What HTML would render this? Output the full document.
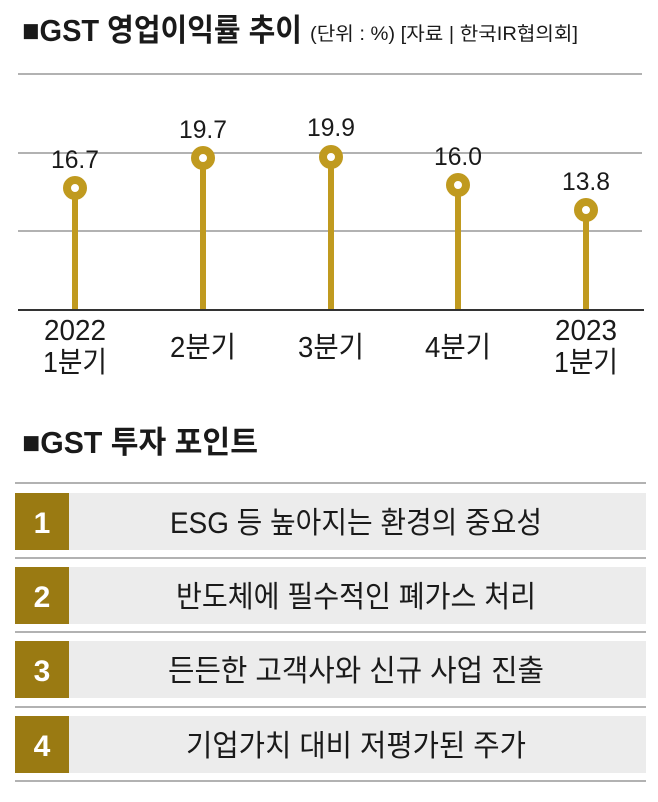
<!DOCTYPE html>
<html><head><meta charset="utf-8"><style>
html,body{margin:0;padding:0;background:#fff}
svg{display:block}
text{font-family:"Liberation Sans","Noto Sans CJK KR",sans-serif;fill:#1a1a1a}
</style></head><body>
<svg width="658" height="802" viewBox="0 0 658 802" xmlns="http://www.w3.org/2000/svg">
<rect width="658" height="802" fill="#fff"/>
<text x="22" y="41" font-size="31" font-weight="bold" textLength="280" lengthAdjust="spacingAndGlyphs">■GST 영업이익률 추이</text>
<text x="310" y="40" font-size="19" textLength="268" lengthAdjust="spacingAndGlyphs">(단위 : %) [자료 | 한국IR협의회]</text>
<g stroke="#999" stroke-width="1.5">
<line x1="18" y1="74" x2="642" y2="74"/>
<line x1="18" y1="153" x2="642" y2="153"/>
<line x1="18" y1="231" x2="642" y2="231"/>
</g>
<g stroke="#c09a1f" stroke-width="6">
<line x1="75" y1="188" x2="75" y2="310"/>
<line x1="203" y1="158" x2="203" y2="310"/>
<line x1="331" y1="157" x2="331" y2="310"/>
<line x1="458" y1="185" x2="458" y2="310"/>
<line x1="586" y1="210" x2="586" y2="310"/>
</g>
<line x1="18" y1="310" x2="644" y2="310" stroke="#333" stroke-width="2"/>
<g fill="#fff" stroke="#c09a1f" stroke-width="8">
<circle cx="75" cy="188" r="8"/>
<circle cx="203" cy="158" r="8"/>
<circle cx="331" cy="157" r="8"/>
<circle cx="458" cy="185" r="8"/>
<circle cx="586" cy="210" r="8"/>
</g>
<g font-size="25" text-anchor="middle">
<text x="75" y="168" textLength="48" lengthAdjust="spacingAndGlyphs">16.7</text>
<text x="203" y="138" textLength="48" lengthAdjust="spacingAndGlyphs">19.7</text>
<text x="331" y="136" textLength="48" lengthAdjust="spacingAndGlyphs">19.9</text>
<text x="458" y="165" textLength="48" lengthAdjust="spacingAndGlyphs">16.0</text>
<text x="586" y="190" textLength="48" lengthAdjust="spacingAndGlyphs">13.8</text>
</g>
<g font-size="29" text-anchor="middle">
<text x="75" y="340" textLength="62" lengthAdjust="spacingAndGlyphs">2022</text>
<text x="75" y="372" textLength="64" lengthAdjust="spacingAndGlyphs">1분기</text>
<text x="203" y="357" textLength="66" lengthAdjust="spacingAndGlyphs">2분기</text>
<text x="331" y="357" textLength="66" lengthAdjust="spacingAndGlyphs">3분기</text>
<text x="458" y="357" textLength="66" lengthAdjust="spacingAndGlyphs">4분기</text>
<text x="586" y="340" textLength="62" lengthAdjust="spacingAndGlyphs">2023</text>
<text x="586" y="372" textLength="64" lengthAdjust="spacingAndGlyphs">1분기</text>
</g>
<text x="22" y="453" font-size="31" font-weight="bold" textLength="236" lengthAdjust="spacingAndGlyphs">■GST 투자 포인트</text>
<g stroke="#999" stroke-width="1.5">
<line x1="15" y1="483" x2="646" y2="483"/>
<line x1="15" y1="558" x2="646" y2="558"/>
<line x1="15" y1="632" x2="646" y2="632"/>
<line x1="15" y1="707" x2="646" y2="707"/>
<line x1="15" y1="781" x2="646" y2="781"/>
</g>
<g fill="#ececec">
<rect x="69" y="493" width="577" height="57"/>
<rect x="69" y="567" width="577" height="57"/>
<rect x="69" y="641" width="577" height="57"/>
<rect x="69" y="716" width="577" height="57"/>
</g>
<g fill="#9a7a12">
<rect x="15" y="493" width="54" height="57"/>
<rect x="15" y="567" width="54" height="57"/>
<rect x="15" y="641" width="54" height="57"/>
<rect x="15" y="716" width="54" height="57"/>
</g>
<g font-size="30" font-weight="bold" text-anchor="middle" style="fill:#fff">
<text x="42" y="533" style="fill:#fff">1</text>
<text x="42" y="607" style="fill:#fff">2</text>
<text x="42" y="681" style="fill:#fff">3</text>
<text x="42" y="756" style="fill:#fff">4</text>
</g>
<g font-size="30" text-anchor="middle">
<text x="356" y="533" textLength="372" lengthAdjust="spacingAndGlyphs">ESG 등 높아지는 환경의 중요성</text>
<text x="356" y="607" textLength="360" lengthAdjust="spacingAndGlyphs">반도체에 필수적인 폐가스 처리</text>
<text x="356" y="681" textLength="376" lengthAdjust="spacingAndGlyphs">든든한 고객사와 신규 사업 진출</text>
<text x="356" y="756" textLength="340" lengthAdjust="spacingAndGlyphs">기업가치 대비 저평가된 주가</text>
</g>
</svg>
</body></html>
